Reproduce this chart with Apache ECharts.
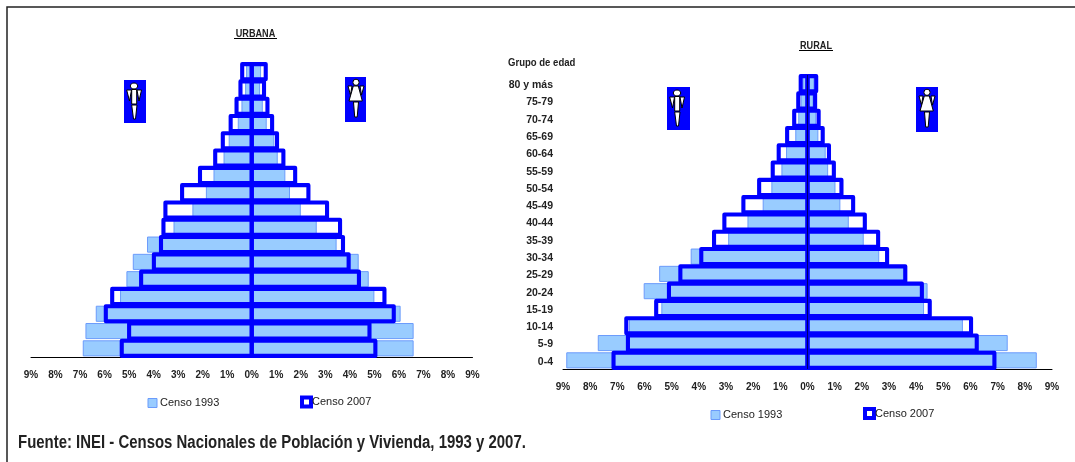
<!DOCTYPE html>
<html><head><meta charset="utf-8">
<style>html,body{margin:0;padding:0;background:#fff}#c{width:1075px;height:462px}</style>
<script src="https://cdn.jsdelivr.net/npm/echarts@6/dist/echarts.min.js"></script>
</head><body><div id="c"></div>
<script>
const categories = ['0-4','5-9','10-14','15-19','20-24','25-29','30-34','35-39','40-44','45-49','50-54','55-59','60-64','65-69','70-74','75-79','80 y más'];
const urbanMen1993 = [6.89,6.78,6.36,5.37,5.11,4.85,4.27,3.19,2.42,1.87,1.56,1.15,0.94,0.57,0.42,0.27,0.23];
const urbanWomen1993 = [6.60,6.60,6.07,5.00,4.77,4.36,3.46,2.65,2.00,1.56,1.37,1.06,0.92,0.61,0.45,0.34,0.38];
const urbanMen2007 = [5.30,5.00,5.95,5.69,4.51,3.99,3.70,3.60,3.52,2.84,2.11,1.49,1.18,0.86,0.62,0.46,0.39];
const urbanWomen2007 = [5.04,4.80,5.79,5.41,4.37,3.95,3.72,3.60,3.07,2.31,1.77,1.29,1.03,0.83,0.64,0.50,0.57];
const ruralMen1993 = [8.88,7.72,6.57,5.38,6.03,5.46,4.30,2.92,2.21,1.65,1.33,0.96,0.79,0.45,0.34,0.25,0.18];
const ruralWomen1993 = [8.44,7.37,5.72,4.29,4.42,3.55,2.64,2.07,1.52,1.21,1.03,0.76,0.67,0.40,0.32,0.22,0.25];
const ruralMen2007 = [7.14,6.61,6.67,5.57,5.10,4.68,3.91,3.44,3.06,2.36,1.78,1.28,1.06,0.75,0.49,0.34,0.25];
const ruralWomen2007 = [6.88,6.23,6.02,4.50,4.21,3.60,2.93,2.60,2.11,1.68,1.25,0.97,0.79,0.56,0.41,0.28,0.32];

const FONT = '"Liberation Sans",Arial,sans-serif';
const NARROW = 0.83;
const BLUE = '#0000ff', LIGHT = '#99ccff', LIGHTB = '#6b9bfb';
const neg = a => a.map(v => -v);

const s93 = {type:'bar', name:'Censo 1993', barWidth:'93%', barGap:'-100%',
  itemStyle:{color:LIGHT, borderColor:LIGHTB, borderWidth:1}};

// Censo 2007 outlines: stroke centred on the value; each row slightly shorter than its band, as in the original
function renderOutline(params, api){
  const v = api.value(0), cat = api.value(1);
  const a = api.coord([0, cat]), b = api.coord([v, cat]);
  const h = api.size([0, 1])[1] - 2.2;
  return {type:'rect', shape:{x:a[0], y:a[1]-h/2, width:b[0]-a[0], height:h},
    style:{fill:'none', stroke:BLUE, lineWidth:4.1, lineJoin:'round'}};
}
function s07(ix, values, extra){
  return Object.assign({type:'custom', name:'Censo 2007', xAxisIndex:ix, yAxisIndex:ix, z:3, clip:false,
    renderItem:renderOutline, encode:{x:0,y:1},
    itemStyle:{color:'#fff', borderColor:BLUE, borderWidth:4},
    data:values.map((v,i)=>[v,i])}, extra||{});
}
function xAx(i){return {type:'value',gridIndex:i,min:-9,max:9,interval:1,
  axisLine:{show:true,onZero:false,lineStyle:{color:'#000',width:1}},axisTick:{show:false},splitLine:{show:false},
  axisLabel:{margin:13,color:'#222',fontFamily:FONT,fontWeight:'bold',fontSize:10,formatter:v=>Math.abs(v)+'%',showMinLabel:true,showMaxLabel:true}};}
function yAx(i,show){return {type:'category',gridIndex:i,data:categories,
  axisLine:{show:false,onZero:false},axisTick:{show:false},
  axisLabel:{show:show,margin:10,interval:0,formatter:v=>'{c|'+v+'}',
    rich:{c:{padding:[3,0,0,0],color:'#222',fontFamily:FONT,fontWeight:'bold',fontSize:10.5}}}};}
function leg93(l,t){return {show:true,left:l,top:t,itemWidth:9,itemHeight:9,padding:0,
  data:[{name:'Censo 1993',icon:'rect',itemStyle:{color:LIGHT,borderColor:LIGHTB,borderWidth:1}}],
  textStyle:{fontFamily:FONT,fontSize:11,color:'#222',padding:[0,0,0,-2]}};}
function leg07(l,t){return {show:true,left:l,top:t,itemWidth:9,itemHeight:9,padding:0,
  data:[{name:'Censo 2007',icon:'rect',itemStyle:{color:'#fff',borderColor:BLUE,borderWidth:4}}],
  textStyle:{fontFamily:FONT,fontSize:11,color:'#222',padding:[0,0,0,-4]}};}

const S={fill:'#fff',stroke:'#000',lineWidth:1};
function poly(p){return {type:'polygon',shape:{points:p},style:S};}
function man(x,y,w,h){
  return [
    {type:'rect',shape:{x:x,y:y,width:w,height:h},style:{fill:BLUE}},
    {type:'ellipse',shape:{cx:x+10,cy:y+6,rx:3.7,ry:3},style:S},
    {type:'rect',shape:{x:x+7.7,y:y+9.5,width:5,height:14.5},style:S},
    poly([[x+2.7,y+10],[x+7.5,y+10],[x+5.5,y+21]]),
    poly([[x+13,y+10],[x+17.5,y+10],[x+15,y+21]]),
    poly([[x+7.7,y+25],[x+13,y+25],[x+11.5,y+39],[x+9.5,y+39]])
  ];
}
function woman(x,y,w,h){
  return [
    {type:'rect',shape:{x:x,y:y,width:w,height:h},style:{fill:BLUE}},
    {type:'circle',shape:{cx:x+11,cy:y+5.3,r:3.1},style:S},
    poly([[x+3,y+9],[x+7,y+9],[x+5.5,y+18]]),
    poly([[x+15,y+9],[x+19,y+9],[x+16.5,y+18]]),
    poly([[x+8.3,y+9],[x+13.3,y+9],[x+17.3,y+24],[x+4,y+24]]),
    poly([[x+8.5,y+25],[x+13.5,y+25],[x+12.2,y+40],[x+9.7,y+40]])
  ];
}
function txt(x,y,t,fs,w,al){return {type:'text',x:x,y:y,scaleX:NARROW,style:{text:t,fontFamily:FONT,fontSize:fs,fontWeight:w,fill:'#222',align:al||'left',verticalAlign:'middle'}};}
function ln(x1,y1,x2,y2,c,w){return {type:'line',shape:{x1,y1,x2,y2},style:{stroke:c||'#000',lineWidth:w||1}};}

const chart = echarts.init(document.getElementById('c'),null,{renderer:'canvas'});
chart.setOption({
  animation:false, backgroundColor:'#fff',
  grid:[{left:31,top:63,width:441.5,height:294},{left:563,top:75,width:489,height:294}],
  xAxis:[xAx(0),xAx(1)], yAxis:[yAx(0,false),yAx(1,true)],
  legend:[leg93(147.5,397.5),leg07(300,395.5),leg93(710.5,409.5),leg07(863,407)],
  series:[
    {...s93,xAxisIndex:0,yAxisIndex:0,data:neg(urbanMen1993)},
    {...s93,xAxisIndex:0,yAxisIndex:0,data:urbanWomen1993},
    s07(0,neg(urbanMen2007)),
    s07(0,urbanWomen2007),
    {...s93,xAxisIndex:1,yAxisIndex:1,data:neg(ruralMen1993)},
    {...s93,xAxisIndex:1,yAxisIndex:1,data:ruralWomen1993},
    s07(1,neg(ruralMen2007)),
    s07(1,ruralWomen2007,{
      markLine:{silent:true,symbol:'none',z:5,label:{show:false},lineStyle:{color:'#000066',width:1,type:'solid'},data:[{xAxis:0}]}})
  ],
  graphic:{elements:[
    {type:'rect',shape:{x:7,y:7,width:1200,height:600},style:{fill:'none',stroke:'#222',lineWidth:1.5},silent:true},
    txt(255.5,33.5,'URBANA',11,'bold','center'), ln(234,38.5,277,38.5,'#000',1),
    txt(816,45.5,'RURAL',11,'bold','center'), ln(799,50.5,833,50.5,'#000',1),
    txt(508,63,'Grupo de edad',11.5,'bold'),
    txt(18,443,'Fuente: INEI - Censos Nacionales de Población y Vivienda, 1993 y 2007.',18,'bold'),
    ...man(124,80,22,43),...woman(345,77,21,45),...man(667,87,23,43),...woman(916,87,22,45)
  ]}
});
</script></body></html>
